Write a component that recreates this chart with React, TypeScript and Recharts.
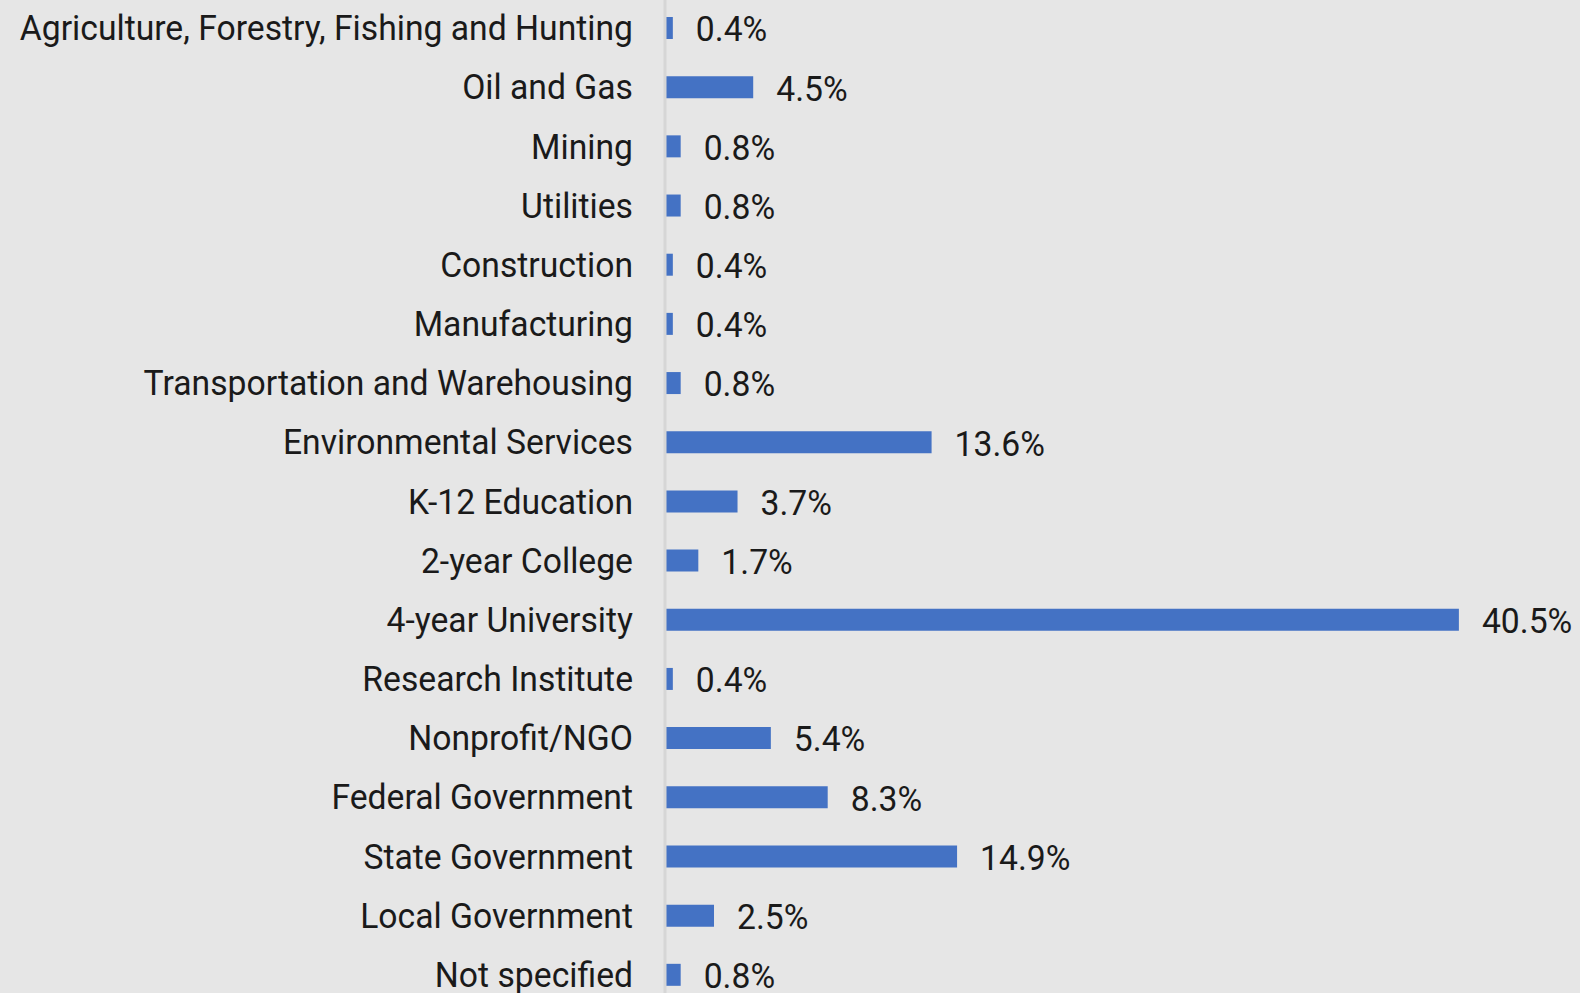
import React from 'react';
import { BarChart, Bar, XAxis, YAxis, LabelList } from 'recharts';

const categories = [
  'Agriculture, Forestry, Fishing and Hunting',
  'Oil and Gas',
  'Mining',
  'Utilities',
  'Construction',
  'Manufacturing',
  'Transportation and Warehousing',
  'Environmental Services',
  'K-12 Education',
  '2-year College',
  '4-year University',
  'Research Institute',
  'Nonprofit/NGO',
  'Federal Government',
  'State Government',
  'Local Government',
  'Not specified',
];

const shares = [0.4, 4.5, 0.8, 0.8, 0.4, 0.4, 0.8, 13.6, 3.7, 1.7, 40.5, 0.4, 5.4, 8.3, 14.9, 2.5, 0.8];

const data = categories.map((name, i) => ({ name, value: shares[i] }));

const FONT = 'Roboto, "Liberation Sans", sans-serif';
const SQUEEZE = 0.936;

// narrow text, to look like the condensed face of the original
const CategoryTick = (props: any) => {
  const { x, y, payload } = props;
  return (
    <text
      transform={`translate(${x},${y}) scale(${SQUEEZE},1)`}
      textAnchor="end"
      dy="0.35em"
      fill="#1a1a1a"
      fontSize={36}
      fontFamily={FONT}
    >
      {payload.value}
    </text>
  );
};

const ValueLabel = (props: any) => {
  const { x, y, width, height, value } = props;
  const lx = Number(x) + Number(width) + 23;
  const ly = Number(y) + Number(height) / 2;
  return (
    <text
      transform={`translate(${lx},${ly}) scale(${SQUEEZE},1)`}
      textAnchor="start"
      dy="0.37em"
      fill="#1a1a1a"
      fontSize={36}
      fontFamily={FONT}
    >
      {`${Number(value).toFixed(1)}%`}
    </text>
  );
};

const App: React.FC = () => {
  return (
    <div
      style={{
        position: 'absolute',
        left: 0,
        top: 0,
        width: 1580,
        height: 993,
        overflow: 'hidden',
        background: '#e6e6e6',
      }}
    >
      <div style={{ position: 'absolute', left: 0, top: -2 }}>
        <BarChart
          layout="vertical"
          width={1700}
          height={1006}
          data={data}
          margin={{ top: 0, right: 0, bottom: 0, left: 0 }}
          barCategoryGap={0}
        >
          <XAxis type="number" hide domain={[0, 52.8]} />
          <YAxis
            type="category"
            dataKey="name"
            width={665}
            axisLine={{ stroke: '#d6d6d6', strokeWidth: 3 }}
            tickLine={false}
            tickMargin={26}
            interval={0}
            tick={<CategoryTick />}
          />
          <Bar dataKey="value" fill="#4472c4" barSize={22} isAnimationActive={false}>
            <LabelList dataKey="value" content={<ValueLabel />} />
          </Bar>
        </BarChart>
      </div>
    </div>
  );
};

export default App;
